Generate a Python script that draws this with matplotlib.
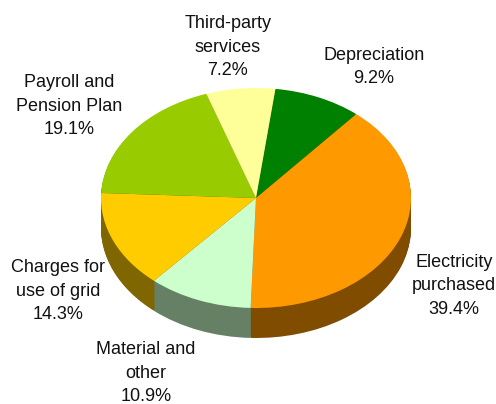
import matplotlib
matplotlib.use("Agg")
import matplotlib.pyplot as plt

labels = ["Depreciation", "Electricity\npurchased", "Material and\nother",
          "Charges for\nuse of grid", "Payroll and\nPension Plan", "Third-party\nservices"]
shares = [9.2, 39.4, 10.9, 14.3, 19.1, 7.2]
top_colors = ["#008000", "#ff9900", "#ccffcc", "#ffcc00", "#99cc00", "#ffff99"]
side_colors = ["#004000", "#804d00", "#668066", "#806600", "#4d6600", "#808066"]

W, H = 496, 404
cx, cy = 256, 198
rx, ry = 155, 110
depth = 30

plt.rcParams['font.family'] = ['Liberation Sans', 'DejaVu Sans']

fig = plt.figure(figsize=(W / 100, H / 100), dpi=100)
ax = fig.add_axes([0, 0, 1, 1])


def px(x, y):
    # picture pixels to pie units
    return (x - cx) / rx, (cy - y) / ry


# side wall, stacked from the bottom up
for k in range(depth, 0, -1):
    ax.pie(shares, colors=side_colors, startangle=82.8, counterclock=False,
           center=(0, -k / ry), radius=1, wedgeprops={'linewidth': 0})

ax.pie(shares, colors=top_colors, startangle=82.8, counterclock=False,
       center=(0, 0), radius=1, wedgeprops={'linewidth': 0})

ax.set_aspect('auto')
ax.set_xlim(-cx / rx, (W - cx) / rx)
ax.set_ylim((cy - H) / ry, cy / ry)
ax.axis('off')

label_pos = [(374, 67), (454, 286), (146, 373), (58, 291), (69, 106), (228, 47)]
for name, share, (x, y) in zip(labels, shares, label_pos):
    tx, ty = px(x, y)
    ax.text(tx, ty, f"{name}\n{share}%", ha='center', va='center', fontsize=13,
            color='#111111', linespacing=1.5)

fig.savefig("out.png", dpi=100)
